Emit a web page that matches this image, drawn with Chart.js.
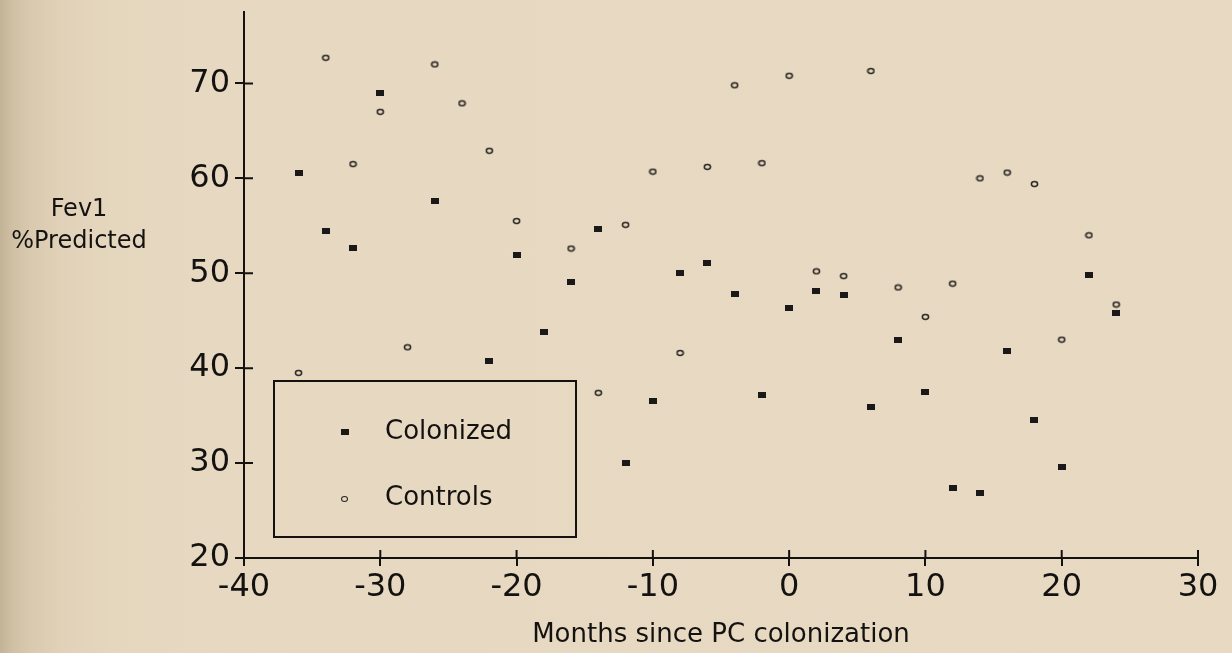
<!DOCTYPE html>
<html>
<head>
<meta charset="utf-8">
<script src="https://cdn.jsdelivr.net/npm/chart.js@4/dist/chart.umd.min.js"></script>
<style>
  html, body { margin: 0; padding: 0; }
  body {
    width: 1232px; height: 653px; overflow: hidden; position: relative;
    background: linear-gradient(to right, #c2b296 0px, #cfbfa3 12px, #d9c9ae 30px, #e0d1b8 60px, #e5d6be 110px, #e7d8c1 200px, #e8d9c3 100%);
    font-family: 'DejaVu Sans', sans-serif; color: #141210;
  }
  #chart { position: absolute; left: 0; top: 0; }
  .ytitle { position: absolute; left: 0; width: 158px; text-align: center; font-size: 24px; line-height: 32px; }
  #legend {
    position: absolute; left: 273px; top: 380px; width: 304px; height: 158px;
    box-sizing: border-box; border: 2px solid #141210;
  }
  .lg-item { position: absolute; left: 110px; font-size: 26px; line-height: 30px; }
  .mk-rect { position: absolute; width: 8px; height: 6px; background: #1b1918; }
  .mk-circ { position: absolute; width: 5px; height: 4px; border: 1.3px solid #2a2622; border-radius: 50%; }
</style>
</head>
<body>
<canvas id="chart" width="1232" height="653"></canvas>
<div class="ytitle" style="top:192px;">Fev1</div>
<div class="ytitle" style="top:224px;">%Predicted</div>
<div id="legend">
  <div class="mk-rect" style="left:66px; top:47px;"></div>
  <div class="lg-item" style="top:33px;">Colonized</div>
  <div class="mk-circ" style="left:66px; top:114px;"></div>
  <div class="lg-item" style="top:99px;">Controls</div>
</div>
<script>
// ---- data ----
const colonizedX = [-36,-34,-32,-30,-26,-22,-20,-18,-16,-14,-12,-10,-8,-6,-4,-2,0,2,4,6,8,10,12,14,16,18,20,22,24];
const colonizedY = [60.6,54.5,52.7,69.0,57.6,40.8,51.9,43.8,49.1,54.7,30.0,36.5,50.0,51.1,47.8,37.2,46.3,48.1,47.7,35.9,43.0,37.5,27.4,26.8,41.8,34.5,29.6,49.8,45.8];
const controlsX = [-36,-34,-32,-30,-28,-26,-24,-22,-20,-16,-14,-12,-10,-8,-6,-4,-2,0,2,4,6,8,10,12,14,16,18,20,22,24];
const controlsY = [39.5,72.7,61.5,67.0,42.2,72.0,67.9,62.9,55.5,52.6,37.4,55.1,60.7,41.6,61.2,69.8,61.6,70.8,50.2,49.7,71.3,48.5,45.4,48.9,60.0,60.6,59.4,43.0,54.0,46.7];
const xTicks = [-40,-30,-20,-10,0,10,20,30];
const yTicks = [20,30,40,50,60,70];
const xTitle = 'Months since PC colonization';

// ---- marker images ----
function rectMarker() {
  const c = document.createElement('canvas'); c.width = 8; c.height = 6;
  const g = c.getContext('2d'); g.fillStyle = '#1b1918'; g.fillRect(0, 0, 8, 6);
  return c;
}
function circMarker() {
  const c = document.createElement('canvas'); c.width = 9; c.height = 8;
  const g = c.getContext('2d'); g.strokeStyle = '#2a2622'; g.lineWidth = 1.5;
  g.beginPath(); g.ellipse(4.5, 4, 3.1, 2.4, 0, 0, Math.PI * 2); g.stroke();
  return c;
}

const toPts = (xs, ys) => xs.map((x, i) => ({ x: x, y: ys[i] }));

const crossTicks = {
  id: 'crossTicks',
  afterDraw(chart) {
    const { ctx, chartArea: a, scales: { x, y } } = chart;
    ctx.save();
    ctx.strokeStyle = '#141210'; ctx.lineWidth = 2;
    ctx.beginPath();
    x.ticks.forEach(t => { const px = x.getPixelForValue(t.value); ctx.moveTo(px, a.bottom); ctx.lineTo(px, a.bottom - 8); });
    y.ticks.forEach(t => { const py = y.getPixelForValue(t.value); ctx.moveTo(a.left, py); ctx.lineTo(a.left + 9, py); });
    ctx.stroke();
    ctx.restore();
  }
};

Chart.defaults.font.family = "'DejaVu Sans', sans-serif";
Chart.defaults.color = '#141210';

new Chart(document.getElementById('chart'), {
  type: 'scatter',
  data: {
    datasets: [
      { label: 'Colonized', data: toPts(colonizedX, colonizedY), pointStyle: rectMarker(), pointRadius: 4 },
      { label: 'Controls', data: toPts(controlsX, controlsY), pointStyle: circMarker(), pointRadius: 4 }
    ]
  },
  options: {
    responsive: false,
    animation: false,
    layout: { padding: { left: 0, right: 34, top: 12, bottom: 0 } },
    plugins: { legend: { display: false }, tooltip: { enabled: false } },
    scales: {
      x: {
        type: 'linear', min: -40, max: 30,
        afterBuildTicks: s => { s.ticks = xTicks.map(v => ({ value: v })); },
        afterFit: s => { s.height = 95; },
        border: { display: true, color: '#141210', width: 2 },
        grid: { display: true, drawOnChartArea: false, drawTicks: true, tickLength: 8, color: '#141210', lineWidth: 2 },
        ticks: { font: { size: 32 }, color: '#141210', padding: 2, maxRotation: 0, autoSkip: false },
        title: { display: true, text: xTitle, font: { size: 26 }, color: '#141210', padding: { top: 0, bottom: 2 } }
      },
      y: {
        type: 'linear', min: 20, max: 77.5,
        afterBuildTicks: s => { s.ticks = yTicks.map(v => ({ value: v })); },
        afterFit: s => { s.width = 244; },
        border: { display: true, color: '#141210', width: 2 },
        grid: { display: true, drawOnChartArea: false, drawTicks: true, tickLength: 9, color: '#141210', lineWidth: 2 },
        ticks: { font: { size: 32, lineHeight: 0.45 }, color: '#141210', padding: 5, autoSkip: false }
      }
    }
  },
  plugins: [crossTicks]
});
</script>
</body>
</html>
